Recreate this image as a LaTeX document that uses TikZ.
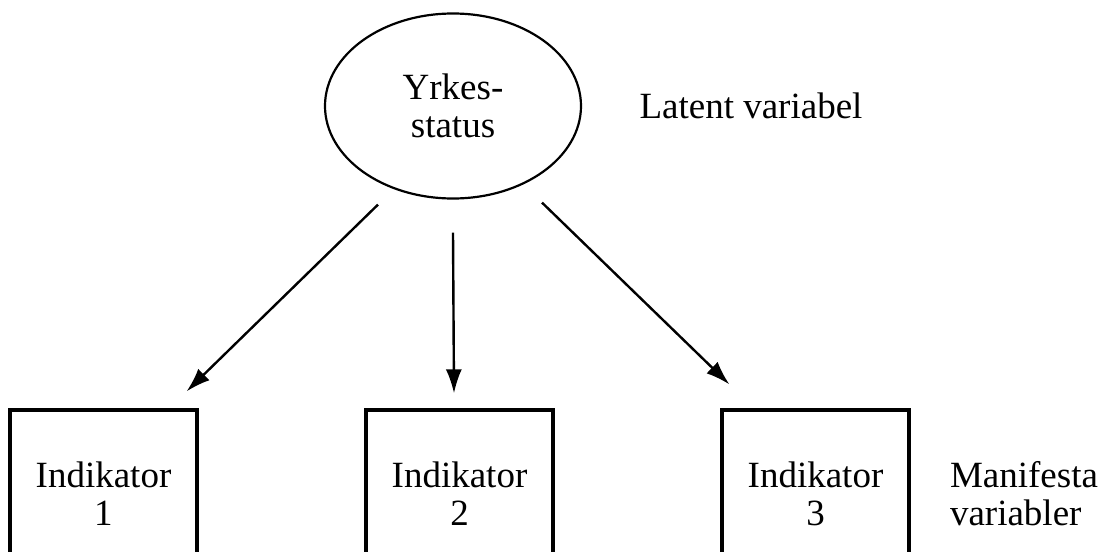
\documentclass[tikz,border=0pt]{standalone}
\usepackage{fontspec}
\setmainfont{Liberation Serif}
\usetikzlibrary{arrows.meta,shapes.geometric,positioning}

\begin{document}
\begin{tikzpicture}[node distance=178pt,font=\fontsize{18.5pt}{19pt}\selectfont,
latent/.style={ellipse,draw,line width=1.1pt,inner sep=0,minimum width=128pt,minimum height=92.5pt,align=center},
indicator/.style={draw,rectangle,line width=1.6pt,inner sep=0,minimum width=93.5pt,minimum height=84pt,align=center},
sidetext/.style={inner sep=0,align=left},
load/.style={line width=1.2pt,-{Latex[length=12pt,width=8pt]}}]

\clip (0,0) rectangle (552.5pt,-276pt);

% Nodes
\node[latent] (yrke) at (226.5pt,-53pt) {Yrkes-\\status};
\node[indicator,below of = yrke,yshift=-16pt,xshift=3.25pt] (ind2) {Indikator\\2};
\node[indicator,left of = ind2] (ind1) {Indikator\\1};
\node[indicator,right of = ind2] (ind3) {Indikator\\3};
\node[sidetext,right = 28.5pt of yrke] (lat) {Latent variabel};
\node[sidetext,right = 19.5pt of ind3] (man) {Manifesta\\variabler};

% arrow ends
\coordinate (s1) at ([shift={(-37.5pt,-2.5pt)}]yrke.south);
\coordinate (t1) at ([shift={(-6pt,8.5pt)}]ind1.north east);
\coordinate (s2) at ([yshift=-16.5pt]yrke.south);
\coordinate (t2) at ([shift={(-2.75pt,7.5pt)}]ind2.north);
\coordinate (s3) at ([shift={(44.5pt,-1.5pt)}]yrke.south);
\coordinate (t3) at ([shift={(4.5pt,12pt)}]ind3.north west);

%arcs
\path (s1) edge[load] (t1);
\path (s2) edge[load] (t2);
\path (s3) edge[load] (t3);

\end{tikzpicture}
\end{document}
